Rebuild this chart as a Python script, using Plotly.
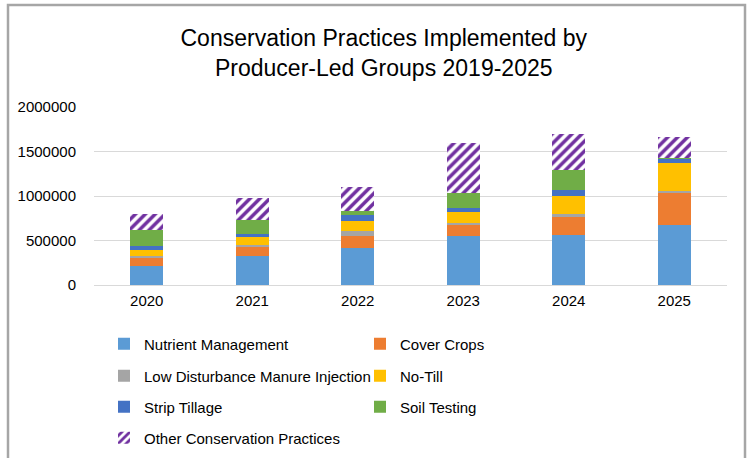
import plotly.graph_objects as go

years = ["2020", "2021", "2022", "2023", "2024", "2025"]
series_names = [
    "Nutrient Management",
    "Cover Crops",
    "Low Disturbance Manure Injection",
    "No-Till",
    "Strip Tillage",
    "Soil Testing",
    "Other Conservation Practices",
]
nutrient_management = [216000, 326000, 417000, 549000, 557000, 670000]
cover_crops = [83000, 98000, 132000, 121000, 208000, 367000]
low_disturbance = [27000, 27000, 61000, 23000, 34000, 23000]
no_till = [68000, 86000, 109000, 132000, 201000, 315000]
strip_tillage = [41000, 39000, 62000, 45000, 68000, 49000]
soil_testing = [186000, 159000, 56000, 160000, 219000, 8000]
other_practices = [174000, 242000, 265000, 561000, 410000, 227000]
y_ticks = [0, 500000, 1000000, 1500000, 2000000]

values = [nutrient_management, cover_crops, low_disturbance, no_till,
          strip_tillage, soil_testing, other_practices]
colors = ["#5B9BD5", "#ED7D31", "#A5A5A5", "#FFC000", "#4472C4", "#70AD47", "#7030A0"]
legend_ids = ["legend", "legend", "legend2", "legend2", "legend3", "legend3", "legend4"]

FONT = "Liberation Sans"
fig = go.Figure()
for name, vals, col, lg in zip(series_names, values, colors, legend_ids):
    if name == "Other Conservation Practices":
        marker = dict(color="white", line=dict(width=0),
                      pattern=dict(shape="/", fgcolor=col, bgcolor="white", fgopacity=1,
                                   size=7, solidity=0.5, fillmode="replace"))
    else:
        marker = dict(color=col, line=dict(width=0))
    fig.add_trace(go.Bar(x=years, y=vals, name=name, marker=marker, legend=lg))

W, H = 751, 458
L, R, T, B = 94, 24, 107, 173
pw = W - L - R
ph = H - T - B

def px(pix):
    return (pix - L) / pw

def py(pix):
    return (H - B - pix) / ph

leg_common = dict(orientation="h", entrywidth=211, entrywidthmode="pixels",
                  font=dict(family=FONT, size=15, color="#000000"),
                  x=px(104), xanchor="left", yanchor="middle",
                  bgcolor="rgba(0,0,0,0)", traceorder="normal")
fig.update_layout(
    width=W, height=H,
    margin=dict(l=L, r=R, t=T, b=B, autoexpand=False),
    barmode="stack", bargap=0.69,
    plot_bgcolor="white", paper_bgcolor="white",
    font=dict(family=FONT, size=15, color="#000000"),
    title=dict(text="Conservation Practices Implemented by<br>Producer-Led Groups 2019-2025",
               x=0.511, xanchor="center", xref="container",
               y=1 - 46 / H, yanchor="middle", yref="container",
               font=dict(family=FONT, size=23, color="#000000")),
    xaxis=dict(showgrid=False, showline=False, ticks="", ticklabelstandoff=5,
               tickfont=dict(size=15)),
    yaxis=dict(range=[0, 2000000], tickvals=y_ticks, ticktext=[str(v) for v in y_ticks],
               showgrid=True, gridcolor="#D9D9D9", gridwidth=1,
               zeroline=True, zerolinecolor="#D9D9D9", zerolinewidth=1,
               showline=False, ticks="", ticklabelstandoff=17, tickfont=dict(size=15)),
    legend=dict(leg_common, y=py(344)),
    legend2=dict(leg_common, y=py(376)),
    legend3=dict(leg_common, y=py(407)),
    legend4=dict(leg_common, y=py(438)),
    shapes=[dict(type="rect", xref="paper", yref="paper",
                 x0=px(8), x1=px(745), y0=py(470), y1=py(5),
                 line=dict(color="#A6A6A6", width=2.5), fillcolor="rgba(0,0,0,0)",
                 layer="below")],
)
fig.write_html("out.html", config={"displayModeBar": False},
               post_script="document.body.style.margin='0';document.body.style.overflow='hidden';")
